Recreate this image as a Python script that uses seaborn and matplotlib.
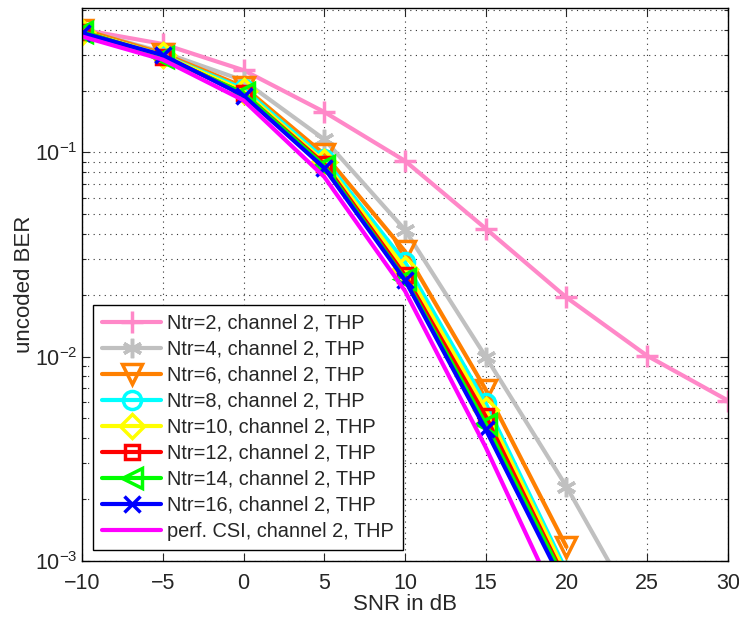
# =========================================
# UNCODED BER vs SNR  (THP, channel 2)
# =========================================

import numpy as np
import pandas as pd
import matplotlib
matplotlib.use("Agg")
import matplotlib.pyplot as plt
import seaborn as sns
from matplotlib.ticker import LogLocator, NullFormatter, MultipleLocator


# =========================================
# DATA
# =========================================

snr = [-10, -5, 0, 5, 10, 15, 20, 25, 30]

ber_ntr2 = [0.40, 0.34, 0.253, 0.158, 0.091, 0.0424, 0.0195, 0.0101, 0.0061]
ber_ntr4 = [0.40, 0.31, 0.225, 0.116, 0.0418, 0.0100, 0.00231, 0.00046]
ber_ntr6 = [0.40, 0.305, 0.21, 0.098, 0.0328, 0.0069, 0.00117]
ber_ntr8 = [0.39, 0.30, 0.205, 0.093, 0.029, 0.0059, 0.00089]
ber_ntr10 = [0.39, 0.30, 0.20, 0.090, 0.027, 0.0055, 0.00085]
ber_ntr12 = [0.39, 0.295, 0.195, 0.088, 0.025, 0.0051, 0.00079]
ber_ntr14 = [0.39, 0.295, 0.195, 0.086, 0.024, 0.0047, 0.00077]
ber_ntr16 = [0.385, 0.30, 0.19, 0.084, 0.0237, 0.0044, 0.00072]
ber_perf = [0.37, 0.285, 0.18, 0.076, 0.021, 0.0036, 0.00051]

labels = [
    "Ntr=2, channel 2, THP",
    "Ntr=4, channel 2, THP",
    "Ntr=6, channel 2, THP",
    "Ntr=8, channel 2, THP",
    "Ntr=10, channel 2, THP",
    "Ntr=12, channel 2, THP",
    "Ntr=14, channel 2, THP",
    "Ntr=16, channel 2, THP",
    "perf. CSI, channel 2, THP",
]

series = [
    ber_ntr2, ber_ntr4, ber_ntr6, ber_ntr8, ber_ntr10,
    ber_ntr12, ber_ntr14, ber_ntr16, ber_perf,
]


# =========================================
# STYLE
# =========================================

colors = [
    "#ff88c8", "#c0c0c0", "#ff8000", "#00ffff", "#ffff00",
    "#ff0000", "#00ff00", "#0000ff", "#ff00ff",
]

markers = ["+", (6, 2, 0), "v", "o", "D", "s", "<", "x", None]
msizes = [16, 14, 15, 13, 12, 10, 14, 12, 0]

sns.set_style("ticks")
plt.rcParams["font.family"] = ["Liberation Sans", "DejaVu Sans"]
plt.rcParams["mathtext.default"] = "regular"


# =========================================
# PLOT
# =========================================

fig = plt.figure(figsize=(7.39, 6.17), dpi=100)
ax = fig.add_axes([0.111, 0.091, 0.874, 0.896])

for vals, lab, c, m, ms in zip(series, labels, colors, markers, msizes):
    df = pd.DataFrame({"snr": snr[:len(vals)], "ber": vals})
    kw = dict(
        color=c,
        linewidth=3,
        label=lab,
        markeredgecolor=c,
        markeredgewidth=2.5,
    )
    if m is not None:
        kw.update(marker=m, markersize=ms, markerfacecolor="none")
    sns.lineplot(data=df, x="snr", y="ber", ax=ax, **kw)

ax.set_yscale("log")
ax.set_xlim(-10, 30)
ax.set_ylim(1e-3, 0.51)

ax.xaxis.set_major_locator(MultipleLocator(5))
ax.yaxis.set_major_locator(LogLocator(base=10, numticks=10))
ax.yaxis.set_minor_locator(LogLocator(base=10, subs=np.arange(2, 10), numticks=20))
ax.yaxis.set_minor_formatter(NullFormatter())

ax.tick_params(which="both", direction="in", top=True, right=True,
               labelsize=15.5)
ax.tick_params(which="major", length=6, width=0.8)
ax.tick_params(which="minor", length=3, width=0.8)
ax.tick_params(axis="x", pad=8.5)
ax.tick_params(axis="y", pad=3)

ax.grid(which="major", axis="both", linestyle=(0, (1, 4)),
        color="#333333", linewidth=0.8)
ax.grid(which="minor", axis="y", linestyle=(0, (1, 4)),
        color="#333333", linewidth=0.8)

for s in ax.spines.values():
    s.set_color("black")
    s.set_linewidth(1)

ax.set_xlabel("SNR in dB", fontsize=16, labelpad=0)
ax.set_ylabel("uncoded BER", fontsize=16, labelpad=0)

leg = ax.legend(
    loc="lower left",
    fontsize=14.4,
    handlelength=2.95,
    labelspacing=0.35,
    handletextpad=0.3,
    borderpad=0.45,
    borderaxespad=0.55,
    fancybox=False,
    edgecolor="black",
    framealpha=1,
)
leg.get_frame().set_linewidth(1)

plt.savefig("out.png", dpi=100)
plt.close()
